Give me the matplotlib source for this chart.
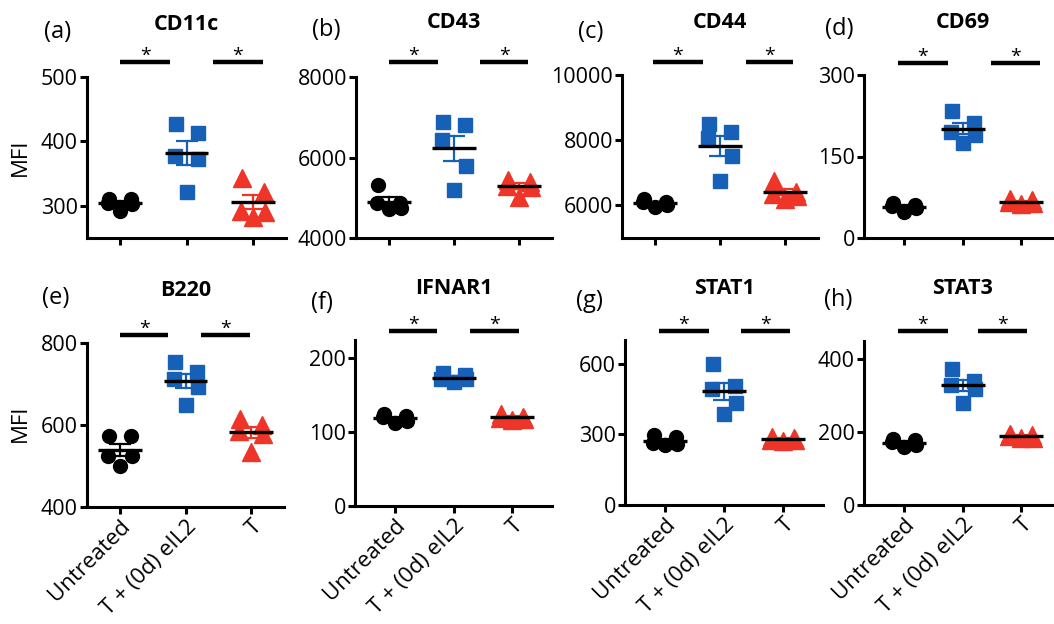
import numpy as np
import matplotlib
matplotlib.use("Agg")
import matplotlib.pyplot as plt
from matplotlib import transforms

plt.rcParams['font.family'] = ['Open Sans', 'DejaVu Sans']

W, H = 1054, 624

GROUPS = ["Untreated", "T + (0d) eIL2", "T"]
COLORS = ["#000000", "#1760B8", "#EE3528"]
MARKERS = ["o", "s", "^"]
MSIZES = [10, 9.4, 12.5]

# values (MFI), per group: Untreated, T + (0d) eIL2, T
CD11C_UNT = [311, 310, 305, 303, 292]
CD11C_EIL2 = [427, 413, 378, 372, 322]
CD11C_T = [343, 322, 292, 290, 283]

CD43_UNT = [5320, 4870, 4870, 4750, 4710]
CD43_EIL2 = [6890, 6810, 6440, 5780, 5200]
CD43_T = [5440, 5400, 5300, 5270, 5020]

CD44_UNT = [6200, 6110, 6100, 6000, 5950]
CD44_EIL2 = [8500, 8240, 8080, 7520, 6740]
CD44_T = [6740, 6400, 6350, 6300, 6200]

CD69_UNT = [65, 60, 58, 55, 48]
CD69_EIL2 = [233, 211, 196, 190, 174]
CD69_T = [72, 70, 66, 65, 62]

B220_UNT = [574, 574, 525, 525, 500]
B220_EIL2 = [754, 729, 712, 692, 650]
B220_T = [615, 600, 585, 578, 533]

IFNAR1_UNT = [125, 122, 120, 115, 112]
IFNAR1_EIL2 = [180, 178, 172, 172, 168]
IFNAR1_T = [125, 121, 119, 118, 117]

STAT1_UNT = [295, 290, 265, 260, 255]
STAT1_EIL2 = [600, 505, 491, 434, 384]
STAT1_T = [290, 285, 275, 275, 270]

STAT3_UNT = [180, 178, 172, 165, 160]
STAT3_EIL2 = [374, 340, 330, 318, 280]
STAT3_T = [195, 192, 188, 185, 185]

LABELS = ["(a)", "(b)", "(c)", "(d)", "(e)", "(f)", "(g)", "(h)"]
TITLES = ["CD11c", "CD43", "CD44", "CD69", "B220", "IFNAR1", "STAT1", "STAT3"]
DATA = [
    [CD11C_UNT, CD11C_EIL2, CD11C_T],
    [CD43_UNT, CD43_EIL2, CD43_T],
    [CD44_UNT, CD44_EIL2, CD44_T],
    [CD69_UNT, CD69_EIL2, CD69_T],
    [B220_UNT, B220_EIL2, B220_T],
    [IFNAR1_UNT, IFNAR1_EIL2, IFNAR1_T],
    [STAT1_UNT, STAT1_EIL2, STAT1_T],
    [STAT3_UNT, STAT3_EIL2, STAT3_T],
]
YLIMS = [(250, 500), (4000, 8000), (5000, 10000), (0, 300),
         (400, 800), (0, 225), (0, 700), (0, 450)]
YTICKS = [[300, 400, 500], [4000, 6000, 8000], [6000, 8000, 10000], [0, 150, 300],
          [400, 600, 800], [0, 100, 200], [0, 300, 600], [0, 200, 400]]

# layout (pixels): x0, x1, y0(top), y1(bottom)
BOXES = [(87, 286, 77, 238), (356, 552, 77, 238), (622, 818, 75, 238), (864, 1061, 75, 238),
         (87, 284, 343, 507), (355, 552, 340, 506), (625, 823, 340, 505), (864, 1061, 341, 505)]
XLIMS = [(-0.5, 2.5), (-0.5, 2.5), (-0.5, 2.5), (-0.68, 2.68),
         (-0.5, 2.5), (-0.68, 2.68), (-0.68, 2.68), (-0.68, 2.68)]
SIG_BARS = [((0, 0.75), (1.4, 2.15)), ((0, 0.75), (1.4, 2.14)), ((-0.03, 0.74), (1.4, 2.12)),
            ((-0.1, 0.75), (1.48, 2.32)), ((0, 0.74), (1.23, 1.98)), ((-0.1, 0.72), (1.28, 2.12)),
            ((-0.1, 0.74), (1.28, 2.12)), ((-0.1, 0.75), (1.27, 2.1))]
SIG_Y = [62, 62, 62, 63, 335, 331, 331, 331]
TITLE_Y = [24, 23, 23, 23, 290, 288, 288, 288]
LABEL_POS = [(58, 32), (326, 30), (591, 32), (839, 29), (56, 298), (322, 303), (589, 301), (838, 300)]

JITTER_PX = [-11, 11, -12, 12, 0]

fig = plt.figure(figsize=(W / 100, H / 100), dpi=100)

for i in range(8):
    x0, x1, y0, y1 = BOXES[i]
    ax = fig.add_axes([x0 / W, 1 - y1 / H, (x1 - x0) / W, (y1 - y0) / H])
    ax.set_xlim(*XLIMS[i])
    ax.set_ylim(*YLIMS[i])
    ax.set_yticks(YTICKS[i])
    ax.set_xticks([0, 1, 2])
    for s in ["top", "right"]:
        ax.spines[s].set_visible(False)
    for s in ["left", "bottom"]:
        ax.spines[s].set_linewidth(2.2)
        ax.spines[s].set_capstyle("projecting")
    ax.tick_params(width=2.2, length=5, labelsize=15.5, pad=1.5)
    if i >= 4:
        ax.set_xticklabels(GROUPS, rotation=45, ha="right", rotation_mode="anchor", fontsize=16)
    else:
        ax.set_xticklabels([])
    xr = XLIMS[i][1] - XLIMS[i][0]
    px2d = xr / (x1 - x0)
    for g, vals in enumerate(DATA[i]):
        vals = np.array(vals, dtype=float)
        order = np.argsort(-vals, kind="stable")
        xs = np.zeros(len(vals))
        for rank, idx in enumerate(order):
            xs[idx] = g + JITTER_PX[rank % len(JITTER_PX)] * px2d
        ax.plot(xs, vals, linestyle="none", marker=MARKERS[g], ms=MSIZES[g],
                color=COLORS[g], mec=COLORS[g], zorder=3, clip_on=False)
        m = vals.mean()
        sem = vals.std(ddof=1) / np.sqrt(len(vals))
        ax.plot([g - 22 * px2d, g + 22 * px2d], [m, m], color="black", lw=2.4, zorder=5,
                solid_capstyle="butt")
        ax.plot([g, g], [m - sem, m + sem], color=COLORS[g], lw=1.6, zorder=4)
        for yy in (m - sem, m + sem):
            ax.plot([g - 11 * px2d, g + 11 * px2d], [yy, yy], color=COLORS[g], lw=1.6, zorder=4,
                    solid_capstyle="butt")
    blend = transforms.blended_transform_factory(ax.transData, fig.transFigure)
    yb = 1 - SIG_Y[i] / H
    for (a, b) in SIG_BARS[i]:
        ax.plot([a, b], [yb, yb], transform=blend, color="black", lw=3.2, clip_on=False,
                solid_capstyle="butt")
        ax.text((a + b) / 2, yb + 1.0 / H, "*", transform=blend, ha="center", va="baseline",
                fontsize=14)
    ax.text(1, 1 - TITLE_Y[i] / H, TITLES[i], transform=blend, ha="center", va="center",
            fontsize=15.5, fontweight="bold")
    lx, ly = LABEL_POS[i]
    fig.text(lx / W, 1 - ly / H, LABELS[i], ha="center", va="center", fontsize=17)

fig.text(20 / W, 1 - 157 / H, "MFI", rotation=90, ha="center", va="center", fontsize=16)
fig.text(20 / W, 1 - 423 / H, "MFI", rotation=90, ha="center", va="center", fontsize=16)

fig.savefig("out.png", dpi=100)
